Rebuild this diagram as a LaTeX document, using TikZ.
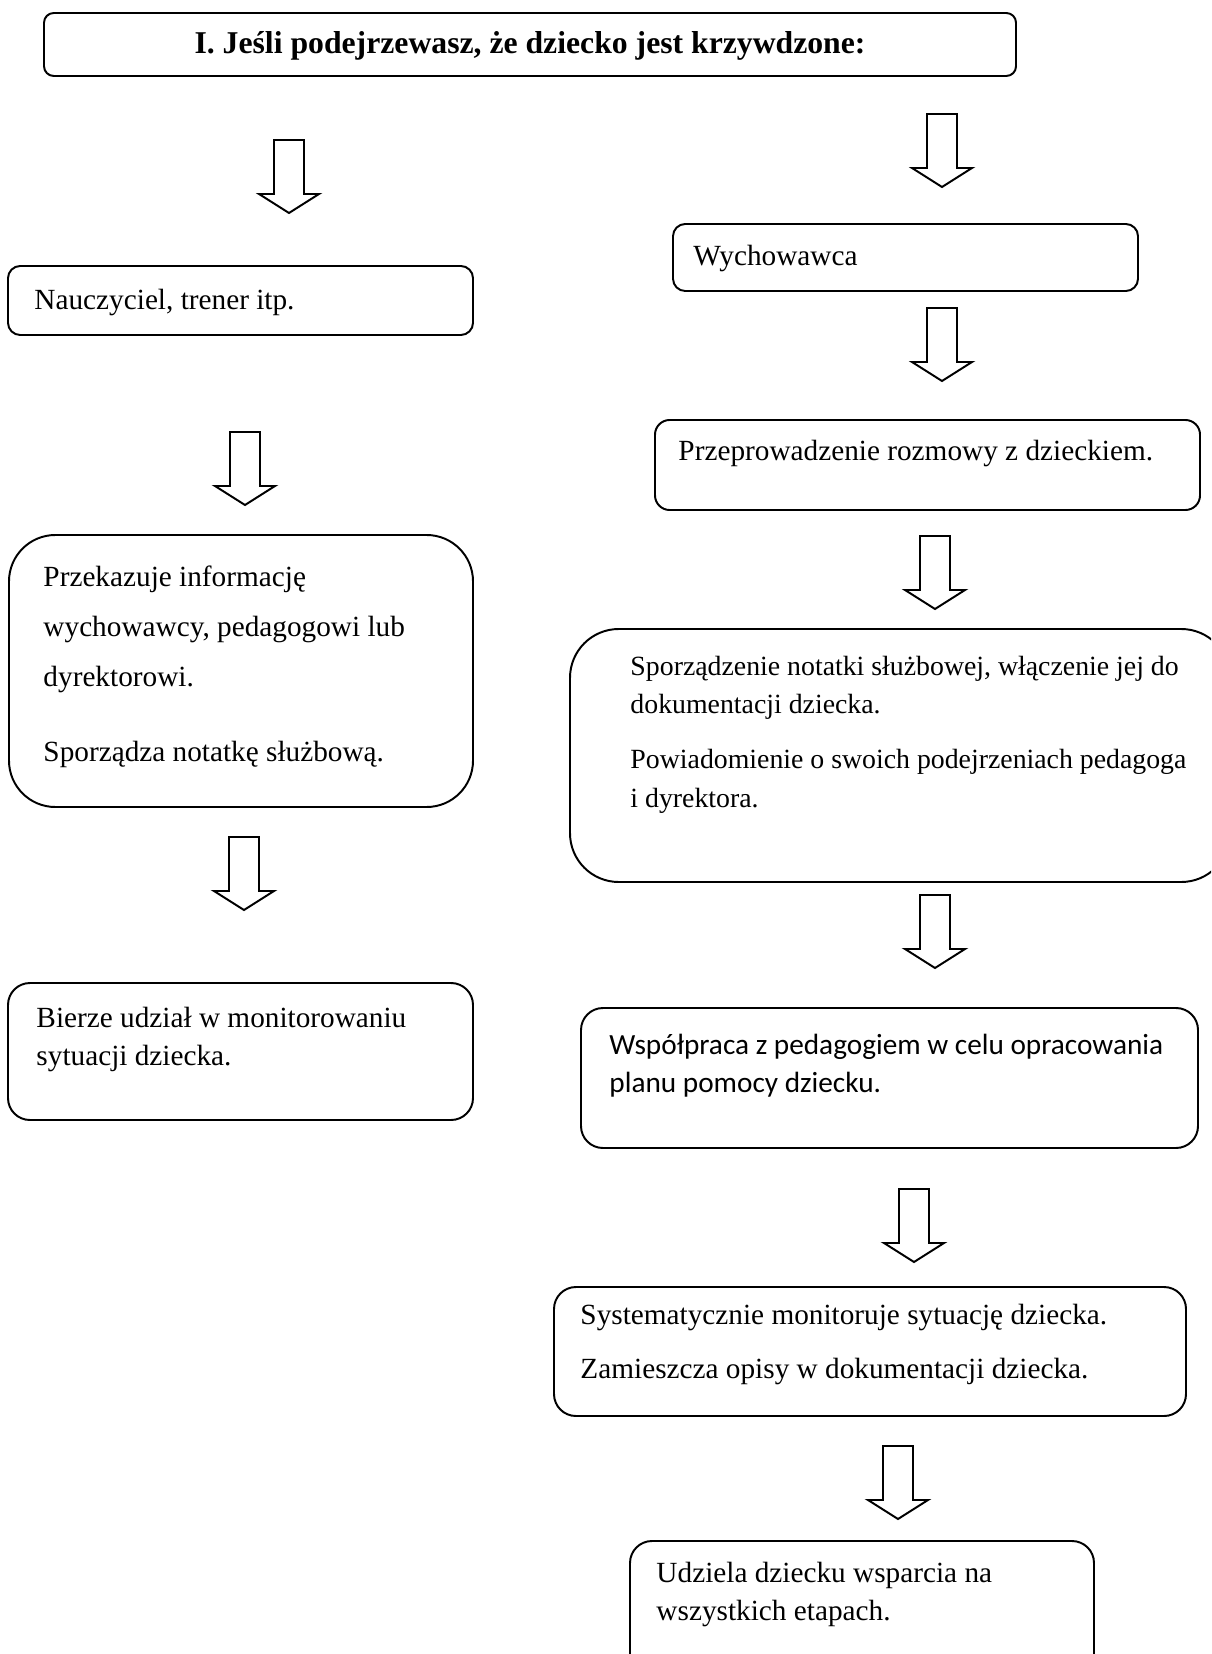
\documentclass[tikz,border=0pt]{standalone}
\usepackage{fontspec}
\setmainfont{Liberation Serif}
\newfontfamily\calibrifont{Carlito}
\usetikzlibrary{positioning,fit}

\tikzset{
  box/.style={draw, line width=0.8pt, rounded corners=#1, inner sep=0pt},
  box/.default=5pt,
  txt/.style={anchor=north west, inner sep=0pt, align=left, font=\fontsize{12}{15.6}\selectfont},
  blockdown/.pic={\draw[line width=0.8pt, line join=miter] (-15,0) -- (15,0) -- (15,54) -- (30,54) -- (0,73) -- (-30,54) -- (-15,54) -- cycle;}
}

\begin{document}
\begin{tikzpicture}[x=0.41pt, y=-0.41pt]
  \useasboundingbox (0,0) rectangle (1211,1654);
  \clip (0,0) rectangle (1211,1654);

  % title
  \node[box=4pt, fit={(44,13) (1016,76)}] (title) {};
  \node[font=\fontsize{13}{15}\selectfont\bfseries] (titleT) at (530,46) {I. Jeśli podejrzewasz, że dziecko jest krzywdzone:};

  % left column
  \pic at (289,140) {blockdown};
  \node[box, fit={(8,266) (473,335)}] (naucz) {};
  \node[txt] (nauczT) at (34,289) {Nauczyciel, trener itp.};

  \pic at (245,432) {blockdown};
  \node[box=19pt, fit={(9,535) (473,807)}] (przek) {};
  \node[txt, font=\fontsize{12}{20.5}\selectfont] (przekT) at (43,565)
    {Przekazuje informację\\wychowawcy, pedagogowi lub\\dyrektorowi.\\[10.3pt]Sporządza notatkę służbową.};

  \pic at (244,837) {blockdown};
  \node[box=9pt, fit={(8,983) (473,1120)}] (bierze) {};
  \node[txt] (bierzeT) at (36,1007) {Bierze udział w monitorowaniu\\sytuacji dziecka.};

  % right column
  \pic at (942,114) {blockdown};
  \node[box, fit={(673,224) (1138,291)}] (wych) {};
  \node[txt] (wychT) at (693,245) {Wychowawca};

  \pic at (942,308) {blockdown};
  \node[box=6pt, fit={(655,420) (1200,510)}] (rozm) {};
  \node[txt] (rozmT) at (678,440) {Przeprowadzenie rozmowy z dzieckiem.};

  \pic at (935,536) {blockdown};
  \node[box=20pt, fit={(570,629) (1230,882)}] (notat) {};
  \node[txt, font=\fontsize{11.4}{15.6}\selectfont] (notatT) at (630,656)
    {Sporządzenie notatki służbowej, włączenie jej do\\dokumentacji dziecka.\\[7pt]Powiadomienie o swoich podejrzeniach pedagoga\\i dyrektora.};

  \pic at (935,895) {blockdown};
  \node[box=9pt, fit={(581,1008) (1198,1148)}] (wspol) {};
  \node[txt, font=\calibrifont\fontsize{12}{15.6}\selectfont] (wspolT) at (609,1034)
    {Współpraca z pedagogiem w celu opracowania\\planu pomocy dziecku.};

  \pic at (914,1189) {blockdown};
  \node[box=9pt, fit={(554,1287) (1186,1416)}] (monit) {};
  \node[txt] (monitT) at (580,1304) {Systematycznie monitoruje sytuację dziecka.\\[6.4pt]Zamieszcza opisy w dokumentacji dziecka.};

  \pic at (898,1446) {blockdown};
  \node[box=9pt, fit={(630,1541) (1094,1680)}] (wsparcie) {};
  \node[txt] (wsparcieT) at (656,1562) {Udziela dziecku wsparcia na\\wszystkich etapach.};
\end{tikzpicture}
\end{document}
